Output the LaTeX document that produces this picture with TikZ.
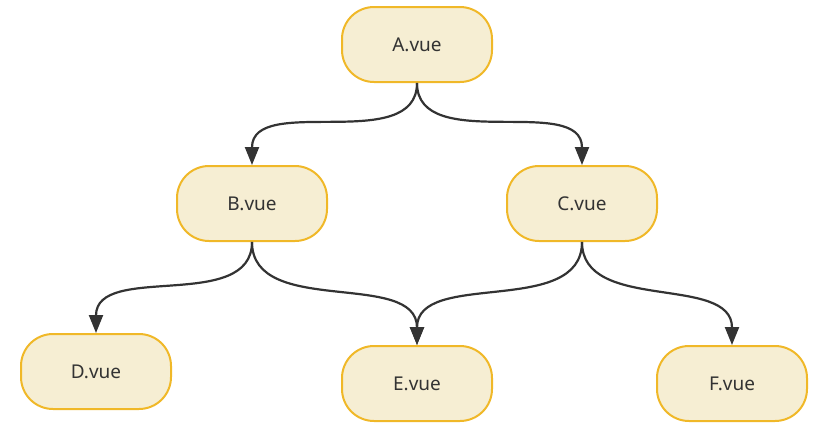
\documentclass[tikz,border=0pt]{standalone}
\usepackage{fontspec}
\setmainfont{Noto Sans}
\usetikzlibrary{arrows.meta,positioning}
\definecolor{vuefill}{RGB}{246,238,211}
\definecolor{vueborder}{RGB}{240,184,40}
\definecolor{edgegray}{RGB}{51,51,51}

\begin{document}
\begin{tikzpicture}[x=1pt,y=-1pt,
    vuebox/.style={draw=vueborder, fill=vuefill, line width=2pt, rounded corners=32pt,
        minimum width=150pt, minimum height=75pt, text=edgegray, font=\fontsize{19}{21}\selectfont},
    link/.style={draw=edgegray, line width=2.2pt, -{Triangle[length=18pt,width=14pt]}}]
    \useasboundingbox (0,0) rectangle (839,429);
    % components
    \node[vuebox] (a) at (417,44.5) {A.vue};
    \node[vuebox] (b) at (252,203.5) {B.vue};
    \node[vuebox] (c) at (582,203.5) {C.vue};
    \node[vuebox] (d) at (96,371.5) {D.vue};
    \node[vuebox] (e) at (417,383.5) {E.vue};
    \node[vuebox] (f) at (732,383.5) {F.vue};
    % parent -> child
    \draw[link] (a.south) to[out=-90,in=90] (b.north);
    \draw[link] (a.south) to[out=-90,in=90] (c.north);
    \draw[link] (b.south) to[out=-90,in=90] (d.north);
    \draw[link] (b.south) to[out=-90,in=90] (e.north);
    \draw[link] (c.south) to[out=-90,in=90] (e.north);
    \draw[link] (c.south) to[out=-90,in=90] (f.north);
\end{tikzpicture}
\end{document}
